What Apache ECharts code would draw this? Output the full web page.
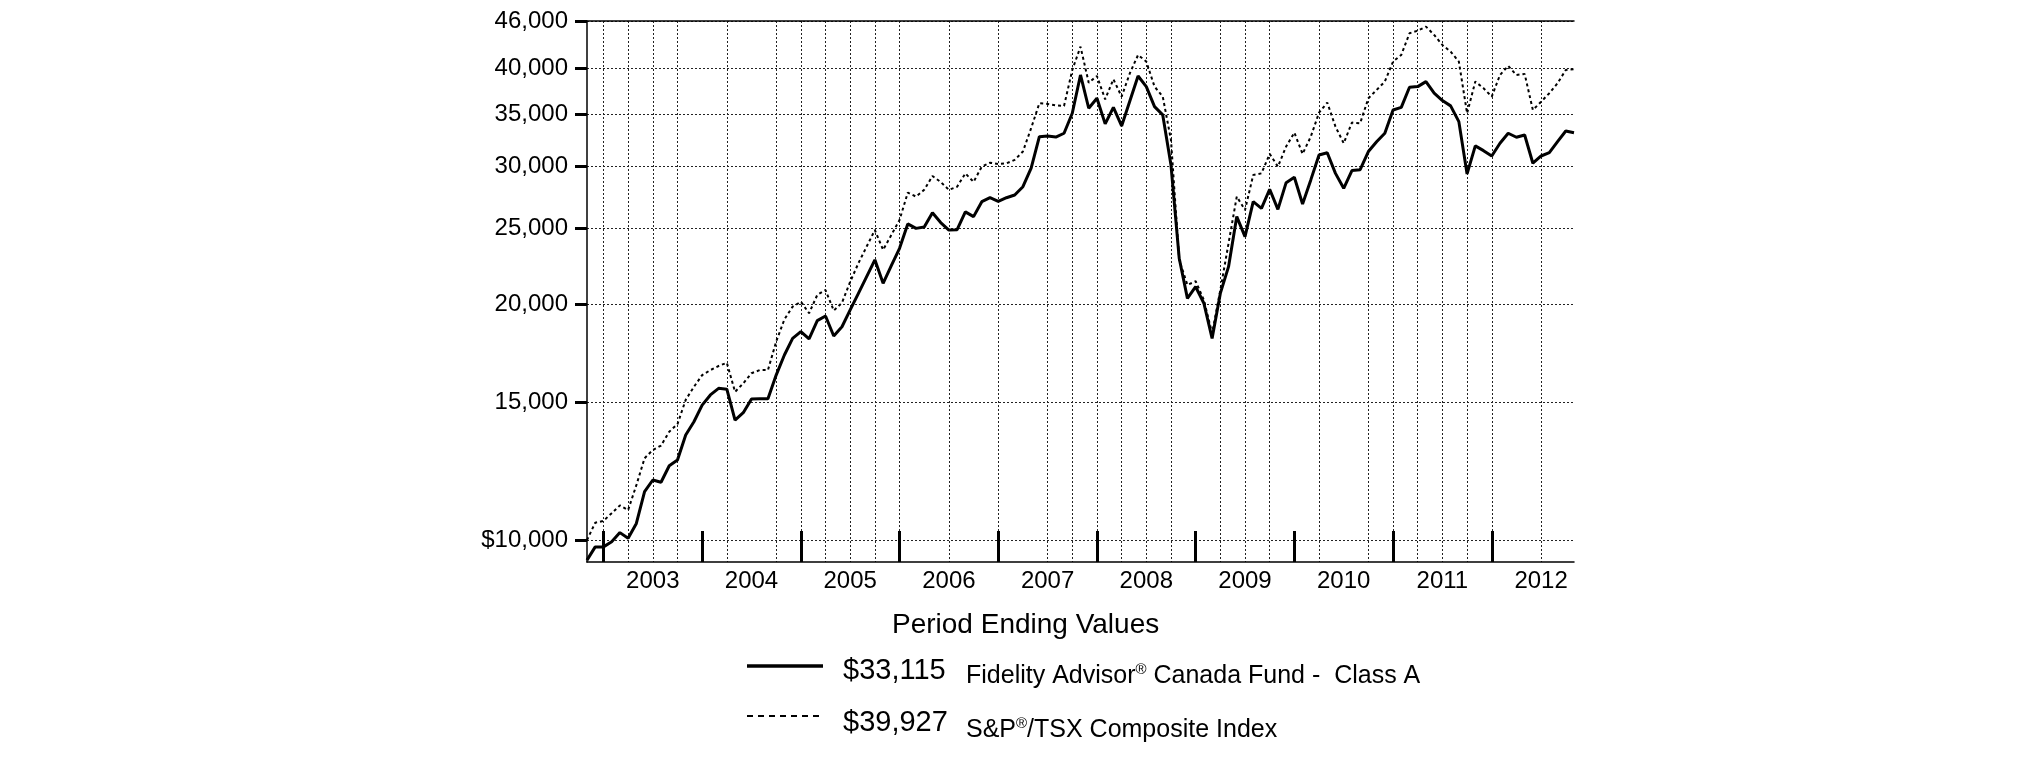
<!DOCTYPE html>
<html>
<head>
<meta charset="utf-8">
<script src="https://cdn.jsdelivr.net/npm/echarts@6/dist/echarts.min.js"></script>
<style>
html, body { margin: 0; padding: 0; background: #ffffff; }
#chart { width: 2025px; height: 761px; }
</style>
</head>
<body>
<div id="chart"></div>
<script>
// ---- Data (month-end values, Oct 2002 .. Oct 2012) ----
const fundValues = [
  9425, 9800, 9800, 9950, 10220, 10050, 10500, 11530, 11930, 11850, 12440, 12650,
  13620, 14160, 14870, 15320, 15620, 15580, 14230, 14540, 15140, 15150, 15150, 16240,
  17230, 18090, 18450, 18060, 19060, 19320, 18220, 18720, 19670, 20650, 21690, 22790,
  21270, 22400, 23580, 25330, 25000, 25100, 26180, 25430, 24880, 24900, 26240, 25880,
  27040, 27360, 27060, 27360, 27580, 28260, 29840, 32740, 32800, 32700, 33070, 35070,
  39250, 35590, 36650, 33990, 35690, 33790, 36360, 39130, 37930, 35760, 34900, 30120,
  22900, 20350, 21060, 20060, 18090, 20650, 22340, 25880, 24400, 27040, 26520, 28050,
  26440, 28600, 29060, 26860, 28830, 31020, 31230, 29390, 28130, 29630, 29710, 31340,
  32260, 33070, 35410, 35690, 37860, 37930, 38490, 37200, 36400, 35840, 34220, 29340,
  31860, 31420, 30930, 32110, 33070, 32680, 32900, 30280, 30930, 31230, 32260, 33290,
  33115
];
const indexValues = [
  10000, 10520, 10580, 10820, 11070, 10920, 11750, 12720, 13030, 13200, 13750, 14060,
  15100, 15690, 16240, 16480, 16680, 16840, 15460, 15850, 16330, 16480, 16480, 17920,
  19130, 19860, 20150, 19480, 20560, 20850, 19630, 20090, 21370, 22570, 23700, 24880,
  23470, 24520, 25630, 27770, 27450, 28000, 29160, 28660, 28000, 28260, 29390, 28660,
  29980, 30330, 30200, 30270, 30580, 31340, 33570, 36120, 36050, 35900, 35840, 39830,
  42660, 38370, 39130, 36540, 38760, 36830, 39450, 41630, 40830, 37930, 36830, 32430,
  22790, 21170, 21400, 20250, 18360, 20850, 23930, 27450, 26390, 29250, 29390, 31120,
  29980, 31800, 33130, 31120, 32740, 35130, 36190, 33720, 32110, 34120, 34060, 36650,
  37560, 38490, 40830, 41630, 44370, 44710, 45250, 44150, 42870, 42030, 40830, 35070,
  38490, 37750, 36830, 39250, 40310, 39250, 39370, 35410, 36280, 37200, 38310, 39830,
  39927
];
const fundName = 'Fidelity Advisor\u00AE Canada Fund -  Class A';
const indexName = 'S&P\u00AE/TSX Composite Index';
const titleText = 'Period Ending Values';

// Categories: month ends from Oct 2002 to Oct 2012
const monthNames = ['Jan','Feb','Mar','Apr','May','Jun','Jul','Aug','Sep','Oct','Nov','Dec'];
const months = [];
for (let i = 0; i < fundValues.length; i++) {
  const t = 9 + i;
  months.push(monthNames[t % 12] + ' ' + (2002 + Math.floor(t / 12)));
}

// Axis ticks
const yTickValues = [10000, 15000, 20000, 25000, 30000, 35000, 40000, 46000];
const yMin = 9374, yMax = 46000;
// months (index) carrying a vertical dotted grid line
const gridMonthIdx = [2,5,8,11,17,23,26,29,32,35,38,44,50,56,59,62,65,68,71,77,80,83,89,95,98,101,104,107,110,116];

const FONT = '"Liberation Sans", Arial, Helvetica, sans-serif';
const fmt = v => (v === 10000 ? '$' : '') + Number(v).toLocaleString('en-US');

const chart = echarts.init(document.getElementById('chart'), null, { renderer: 'canvas' });

const option = {
  animation: false,
  backgroundColor: '#ffffff',
  grid: { left: 587, right: 451, top: 21, bottom: 199, containLabel: false },
  xAxis: [
    {
      type: 'category',
      data: months,
      boundaryGap: false,
      axisLine: { show: true, lineStyle: { color: '#000', width: 1.5 } },
      axisTick: {
        show: true, inside: true, length: 31,
        interval: (i) => i % 12 === 2,
        lineStyle: { color: '#000', width: 3 }
      },
      axisLabel: {
        show: true, interval: (i) => i % 12 === 8,
        formatter: v => v.slice(-4),
        color: '#000', fontFamily: FONT, fontSize: 24, margin: 7
      },
      splitLine: {
        show: true,
        interval: (i) => gridMonthIdx.indexOf(i) >= 0,
        lineStyle: { color: '#222', width: 1, type: [2, 2] }
      }
    },
    {
      type: 'category',
      data: months,
      boundaryGap: false,
      position: 'top',
      axisLine: { show: true, lineStyle: { color: '#000', width: 1.5 } },
      axisTick: { show: false },
      axisLabel: { show: false },
      splitLine: { show: false }
    }
  ],
  yAxis: {
    type: 'log',
    logBase: 10,
    min: yMin,
    max: yMax,
    axisLine: { show: true, lineStyle: { color: '#000', width: 1.5 } },
    axisTick: {
      show: true, inside: false, length: 12,
      customValues: yTickValues,
      lineStyle: { color: '#000', width: 3 }
    },
    axisLabel: {
      show: true, customValues: yTickValues,
      formatter: fmt, color: '#000', fontFamily: FONT, fontSize: 24, margin: 19
    },
    splitLine: { show: true, lineStyle: { color: '#222', width: 1, type: [2, 2] } },
    minorTick: { show: false }
  },
  series: [
    {
      name: indexName, type: 'line', data: indexValues, showSymbol: false, symbol: 'none',
      lineStyle: { color: '#000', width: 2, type: [3, 3] }, z: 3
    },
    {
      name: fundName, type: 'line', data: fundValues, showSymbol: false, symbol: 'none',
      lineStyle: { color: '#000', width: 3 }, z: 4
    }
  ],
  graphic: [
    { type: 'text', x: 892, y: 625, style: { text: titleText, fill: '#000', font: '28px ' + FONT, align: 'left', verticalAlign: 'middle' } },
    { type: 'line', shape: { x1: 747, y1: 666, x2: 823, y2: 666 }, style: { stroke: '#000', lineWidth: 3.5 } },
    { type: 'text', x: 843, y: 671, style: { text: '$' + fundValues[fundValues.length - 1].toLocaleString('en-US'), fill: '#000', font: '29px ' + FONT, align: 'left', verticalAlign: 'middle' } },
    { type: 'text', x: 966, y: 676, style: {
        text: '{n|Fidelity Advisor}{s|\u00AE}{n| Canada Fund -  Class A}',
        align: 'left', verticalAlign: 'middle',
        rich: { n: { fontSize: 25, fontFamily: FONT, fill: '#000', color: '#000', lineHeight: 28 },
                s: { fontSize: 15, fontFamily: FONT, fill: '#000', color: '#000', lineHeight: 28, verticalAlign: 'top' } }
      } },
    { type: 'line', shape: { x1: 747, y1: 716, x2: 823, y2: 716 }, style: { stroke: '#000', lineWidth: 2, lineDash: [6, 5] } },
    { type: 'text', x: 843, y: 723, style: { text: '$' + indexValues[indexValues.length - 1].toLocaleString('en-US'), fill: '#000', font: '29px ' + FONT, align: 'left', verticalAlign: 'middle' } },
    { type: 'text', x: 966, y: 730, style: {
        text: '{n|S&P}{s|\u00AE}{n|/TSX Composite Index}',
        align: 'left', verticalAlign: 'middle',
        rich: { n: { fontSize: 25, fontFamily: FONT, fill: '#000', color: '#000', lineHeight: 28 },
                s: { fontSize: 15, fontFamily: FONT, fill: '#000', color: '#000', lineHeight: 28, verticalAlign: 'top' } }
      } }
  ]
};
chart.setOption(option);
</script>
</body>
</html>
